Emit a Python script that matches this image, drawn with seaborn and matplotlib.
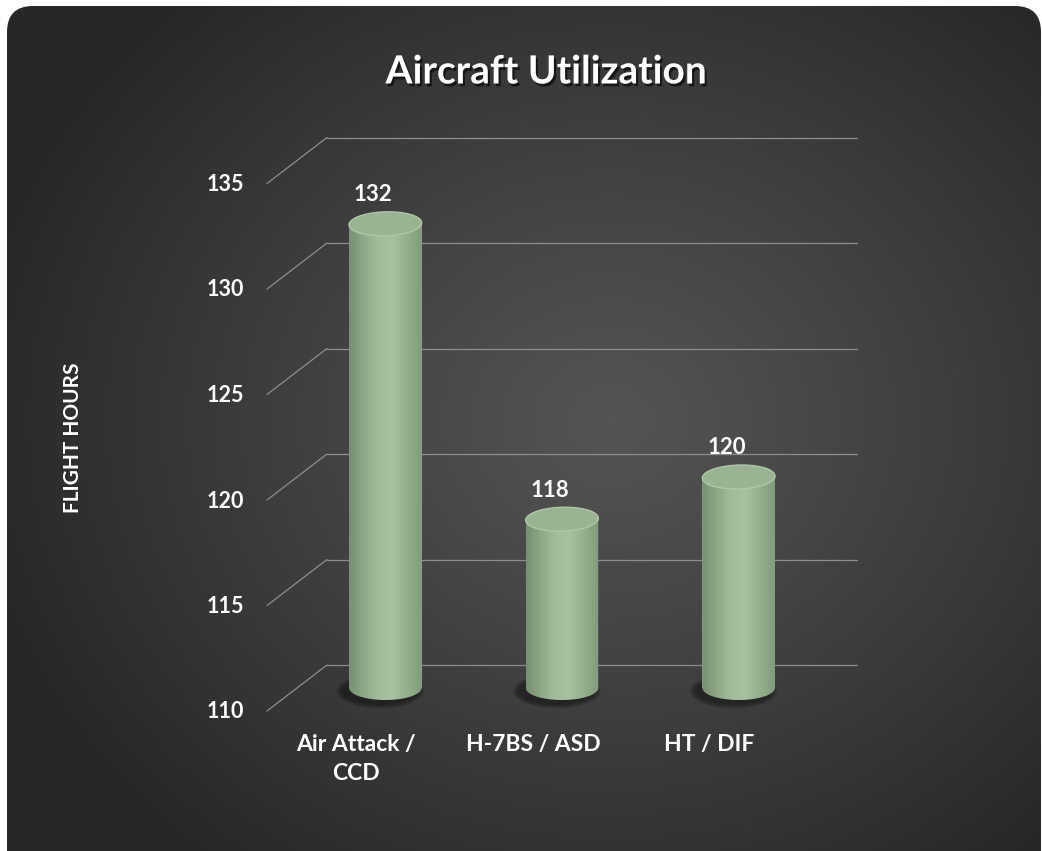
import numpy as np
import pandas as pd
import seaborn as sns
import matplotlib.pyplot as plt
import matplotlib.patheffects as pe
from matplotlib.patches import Ellipse, FancyBboxPatch, PathPatch
from matplotlib.path import Path
from matplotlib.transforms import ScaledTranslation
from matplotlib.colors import LinearSegmentedColormap

# data
aircraft = ['Air Attack /\nCCD', 'H-7BS / ASD', 'HT / DIF']
hours = [132, 118, 120]
y_ticks = [110, 115, 120, 125, 130, 135]

sns.set_theme(style='white')
plt.rcParams['font.family'] = ['Lato', 'DejaVu Sans']

W, H = 1042, 851
DPI = 100
fig = plt.figure(figsize=(W / DPI, H / DPI), dpi=DPI)
fig.patch.set_facecolor('white')

def px(dx, dy):
    # offset in pixels (dy up)
    return ScaledTranslation(dx / DPI, dy / DPI, fig.dpi_scale_trans)

####################################################    background
bg = fig.add_axes([0, 0, 1, 1], zorder=0)
bg.set_xlim(0, W)
bg.set_ylim(H, 0)
bg.axis('off')
yy, xx = np.mgrid[0:H, 0:W]
r = np.sqrt(((xx - 610) / 640) ** 2 + ((yy - 420) / 560) ** 2)
r = np.clip(r, 0, 1) ** 1.1
inner, outer = 0.33, 0.155
shade = inner + (outer - inner) * r
rgb = np.dstack([shade, shade, shade])
img = bg.imshow(rgb, extent=[0, W, H, 0], aspect='auto', interpolation='bilinear')
box = FancyBboxPatch((7, 6), W - 8, H + 40, boxstyle='round,pad=0,rounding_size=26',
                     transform=bg.transData, fc='none', ec='none')
bg.add_patch(box)
img.set_clip_path(box)

####################################################    chart
ax = fig.add_axes([297 / W, 163 / H, 530 / W, 527.5 / H], zorder=1)
ax.patch.set_alpha(0)

df = pd.DataFrame({'aircraft': aircraft, 'hours': hours})
sns.barplot(data=df, x='aircraft', y='hours', color='#95ae8e', saturation=1,
            width=0.41, linewidth=0, ax=ax, zorder=3)
ax.set_ylim(110, 135)
ax.set_xlim(-0.5, 2.5)
for s in ax.spines.values():
    s.set_visible(False)
ax.set_xticks([])
ax.set_yticks([])
ax.set_xlabel('')
ax.set_ylabel('FLIGHT HOURS', color='white', fontsize=15, fontweight='bold')
ax.yaxis.set_label_coords((83 - 297) / 530, (413 - 163) / 527.5)

# perspective grid
grid_col = '#8e8e8e'
for t in y_ticks:
    ax.plot([-0.5, 2.5], [t, t], color=grid_col, lw=0.9,
            transform=ax.transData + px(30, 23), zorder=1, clip_on=False)
    ax.annotate('', xy=(-0.5, t), xycoords=ax.transData + px(30, 23),
                xytext=(-0.5, t), textcoords=ax.transData + px(-30, -23),
                arrowprops=dict(arrowstyle='-', color=grid_col, lw=0.9,
                                shrinkA=0, shrinkB=0), zorder=1)
    ax.text(-0.5, t, str(t), transform=ax.transData + px(-53, -24),
            ha='right', va='center', color='white', fontsize=15.5, fontweight='bold')

for i, name in enumerate(aircraft):
    ax.text(i, 110, name, transform=ax.transData + px(-29, -46),
            ha='center', va='top', color='white', fontsize=16.5, fontweight='bold',
            linespacing=1.5)

# cylinders
body_cmap = LinearSegmentedColormap.from_list(
    'cyl', ['#778f72', '#8ea787', '#a3bc9c', '#a8c1a0', '#95ae8e', '#819b7b'])
grad = body_cmap(np.linspace(0, 1, 200))[None, :, :]
eh = 24 / 21.1  # ellipse height in data units
for p, v in zip(ax.patches, hours):
    x0, w = p.get_x(), p.get_width()
    cx = x0 + w / 2
    # soft shadow at base
    for k in range(5):
        ax.add_patch(Ellipse((cx - 0.03, 110 - 0.15), w * (1.22 - 0.04 * k), eh * (1.45 - 0.08 * k),
                             fc='black', ec='none', alpha=0.09, zorder=2, clip_on=False))
    # body path: rect + lower half of bottom ellipse
    tt = np.linspace(np.pi, 2 * np.pi, 60)
    verts = [(x0, v), (x0, 110)]
    verts += [(cx + w / 2 * np.cos(a), 110 + eh / 2 * np.sin(a)) for a in tt]
    verts += [(x0 + w, v), (x0, v)]
    body = PathPatch(Path(verts), transform=ax.transData, fc='none', ec='none')
    ax.add_patch(body)
    im = ax.imshow(grad, extent=[x0, x0 + w, 110 - eh / 2, v], aspect='auto',
                   interpolation='bilinear', zorder=4)
    im.set_clip_path(body)
    im.set_clip_box(fig.bbox)
    # top
    ax.add_patch(Ellipse((cx, v), w, eh, angle=-2, fc='#9ab493', ec='#b0c6aa', lw=1.0,
                         zorder=5, clip_on=False))
    ax.annotate(str(v), (cx, v), xytext=(-12, 29), textcoords='offset pixels',
                ha='center', va='center', color='white', fontsize=16, fontweight='bold',
                zorder=6)

ax.set_xlim(-0.5, 2.5)
ax.set_ylim(110, 135)

fig.text(546 / W, 1 - 72 / H, 'Aircraft Utilization', ha='center', va='center',
         color='white', fontsize=28, fontweight='bold',
         path_effects=[pe.withSimplePatchShadow(offset=(1.5, -2), shadow_rgbFace='black', alpha=0.6)])

fig.savefig('out.png', dpi=DPI, facecolor='white')
